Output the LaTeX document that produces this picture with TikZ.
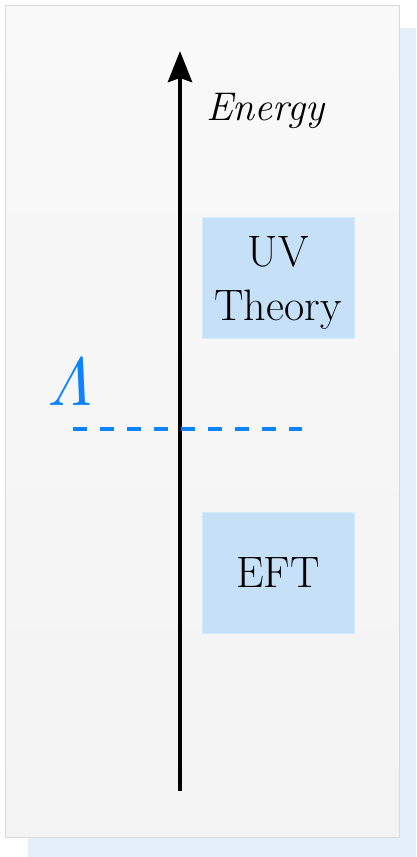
\documentclass[tikz,border=0pt]{standalone}
\usetikzlibrary{arrows.meta}
\definecolor{shadowblue}{RGB}{229,239,250}
\definecolor{panelgray}{RGB}{243,243,243}
\definecolor{panelborder}{RGB}{218,218,218}
\definecolor{boxblue}{RGB}{198,224,248}
\definecolor{boxedge}{RGB}{214,233,250}
\definecolor{cutblue}{RGB}{12,132,255}
\tikzset{
  levelbox/.style={fill=boxblue, draw=boxedge, line width=0.8pt, minimum width=152pt, minimum height=121pt, inner sep=0pt},
  boxtext/.style={inner sep=0pt, align=center, font=\fontsize{44}{54}\selectfont},
  axisline/.style={line width=4.6pt, -{Stealth[length=31pt,width=24pt,inset=4pt]}},
  cutline/.style={cutblue, line width=4.5pt, dash pattern=on 14pt off 13pt}
}
\begin{document}
\begin{tikzpicture}[x=1pt,y=-1pt]
\useasboundingbox (0,0) rectangle (416,857);
\fill[shadowblue] (28,28) rectangle (416,857);
\shade[top color=panelgray!50!white, bottom color=panelgray, draw=panelborder, line width=1pt] (5.5,5.5) rectangle (399,837.5);
\coordinate (axbot) at (180,791);
\coordinate (axtop) at (180,51);
\draw[axisline] (axbot) -- (axtop);
\node[anchor=base west, inner sep=0pt, font=\fontsize{40}{48}\selectfont\itshape] (energy) at (206,120) {Energy};
\node[levelbox] (uv) at (278,277.5) {};
\node[boxtext] (uvtext) at ([yshift=-5pt]uv.center) {UV\\Theory};
\node[levelbox] (eft) at (278,572.5) {};
\node[boxtext] (efttext) at (eft.center) {EFT};
\coordinate (cutL) at (73,429);
\coordinate (cutR) at (302,429);
\draw[cutline] (cutL) -- (cutR);
\node[anchor=base, inner sep=0pt, text=cutblue, scale=6.8] (lambda) at (70,405) {$\mathit{\Lambda}$};
\end{tikzpicture}
\end{document}
